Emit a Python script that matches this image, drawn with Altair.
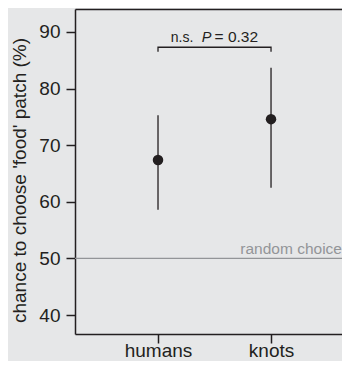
import altair as alt
import pandas as pd

# ---- data ----
groups = ["humans", "knots"]
means = [67.4, 74.6]
ci_low = [58.6, 62.5]
ci_high = [75.3, 83.7]
chance_level = [50]
chance_label = "random choice"
y_ticks = [40, 50, 60, 70, 80, 90]
bracket_top = 87.3
bracket_foot = 86.5
annot_y = 88.3
annot_parts = ["n.s.", "P", "= 0.32"]

INK = "#231f20"
GRAY = "#939598"
BG = "#e6e7e8"
FONT = "Liberation Sans"

positions = [i + 1 for i in range(len(groups))]
df = pd.DataFrame({"group": groups, "pos": positions, "mean": means,
                   "lo": ci_low, "hi": ci_high})
df_br = pd.DataFrame({
    "pos": [positions[0], positions[0], positions[1], positions[1]],
    "y": [bracket_foot, bracket_top, bracket_top, bracket_foot],
    "order": [0, 1, 2, 3],
})
df_chance = pd.DataFrame({"y": chance_level})

W, H = 267, 325
xscale = alt.Scale(domain=[0.2655, 2.628], nice=False, zero=False)
yscale = alt.Scale(domain=[36.65, 94.06], nice=False, zero=False)

label_expr = " : ".join(
    [f"datum.value == {p} ? '{g}'" for p, g in zip(positions, groups)]) + " : ''"

x_axis = alt.Axis(values=positions, labelExpr=label_expr, title=None,
                  tickSize=9, labelPadding=13, labelBaseline="alphabetic",
                  labelFontSize=19, labelColor=INK, grid=False,
                  domainColor=INK, tickColor=INK, domainWidth=1.5,
                  tickWidth=1.5, orient="bottom", labelFont=FONT)
top_axis = alt.Axis(orient="top", labels=False, ticks=False, title=None,
                    grid=False, domain=True, domainColor=INK, domainWidth=1.5)
y_axis = alt.Axis(values=y_ticks, title="chance to choose 'food' patch (%)",
                  tickSize=9, labelPadding=6, labelFontSize=19, labelColor=INK,
                  grid=False, domainColor=INK, tickColor=INK, domainWidth=1.5,
                  tickWidth=1.5, titleFontSize=19, titleFontWeight="normal",
                  titleColor=INK, titleAngle=-90, titleX=-50, titleY=171,
                  titleAlign="center", titleBaseline="alphabetic",
                  labelFont=FONT, titleFont=FONT)

base = alt.Chart(df)

errorbars = base.mark_rule(color=INK, strokeWidth=1.3).encode(
    x=alt.X("pos:Q", scale=xscale, axis=x_axis),
    y=alt.Y("lo:Q", scale=yscale, axis=y_axis),
    y2="hi:Q",
)
points = base.mark_circle(size=110, color=INK, opacity=1).encode(
    x=alt.X("pos:Q", scale=xscale, axis=top_axis),
    y=alt.Y("mean:Q", scale=yscale),
)

chance_rule = alt.Chart(df_chance).mark_rule(color=GRAY, strokeWidth=1.3).encode(
    y=alt.Y("y:Q", scale=yscale)
)
chance_text = alt.Chart(df_chance).mark_text(
    align="right", baseline="alphabetic", dy=-4, fontSize=15.5, color=GRAY, font=FONT
).encode(x=alt.value(W), y=alt.Y("y:Q", scale=yscale),
         text=alt.value(chance_label))

bracket = alt.Chart(df_br).mark_line(color=INK, strokeWidth=1.3).encode(
    x=alt.X("pos:Q", scale=xscale, axis=None),
    y=alt.Y("y:Q", scale=yscale),
    order="order:Q",
)

mid = (positions[0] + positions[1]) / 2


def annot(text, dx, size, style="normal"):
    return alt.Chart(df_chance).mark_text(
        align="left", baseline="alphabetic", fontSize=size, color=INK, font=FONT,
        fontStyle=style, dx=dx
    ).encode(
        x=alt.XDatum(mid, scale=xscale, axis=None),
        y=alt.YDatum(annot_y, scale=yscale),
        text=alt.value(text),
    )


ns_text = annot(annot_parts[0], -43.8, 14)
p_text = annot(annot_parts[1], -12.8, 14.5, "italic")
val_text = annot(annot_parts[2], 0, 15.5)

chart = alt.layer(
    errorbars, chance_rule, chance_text, points, bracket, ns_text, p_text, val_text
).resolve_axis(x="independent").properties(
    width=W, height=H,
    autosize=alt.AutoSizeParams(type="none"),
    padding={"left": 67, "top": 1, "right": 0, "bottom": 27},
).configure(background=BG, font=FONT).configure_view(stroke=None)

chart.save("out.html", embed_options={"renderer": "svg", "actions": False})
